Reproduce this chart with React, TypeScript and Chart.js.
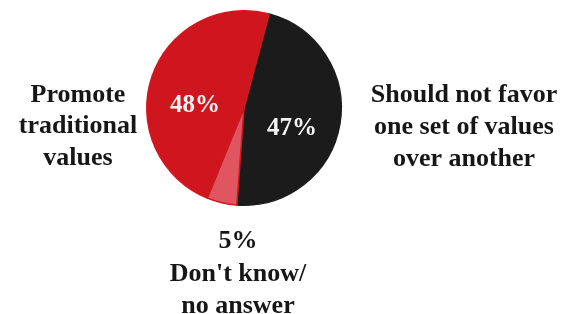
import React, { useEffect, useRef } from "react";
import { Chart, registerables } from "chart.js";

Chart.register(...registerables);

const categories = ["Should not favor one set of values over another", "Don't know/no answer", "Promote traditional values"];
const values = [47, 5, 48];
const sliceColors = ["#1c1b1b", "#df5560", "#cf151d"];
const borderColors = ["#1c1b1b", "#d01820", "#d01820"];

const pctLabels = [
  { text: "47%", x: 292, y: 135 },
  { text: "48%", x: 195, y: 112 },
];
const sideLabels = [
  { lines: ["Promote", "traditional", "values"], x: 78, y: [102, 133, 165] },
  { lines: ["Should not favor", "one set of values", "over another"], x: 464, y: [102, 134, 166] },
  { lines: ["5%", "Don't know/", "no answer"], x: 238, y: [248, 281, 313] },
];

const FONT = "bold 26px 'Liberation Serif', 'Times New Roman', serif";

const textPlugin = {
  id: "textPlugin",
  afterDraw(chart: any) {
    const ctx = chart.ctx;
    ctx.save();
    ctx.textAlign = "center";
    ctx.textBaseline = "alphabetic";
    ctx.font = FONT;
    ctx.fillStyle = "#161616";
    sideLabels.forEach((l) => {
      l.lines.forEach((line, i) => ctx.fillText(line, l.x, l.y[i]));
    });
    ctx.font = "bold 25px 'Liberation Serif', 'Times New Roman', serif";
    ctx.fillStyle = "#f4f4f4";
    pctLabels.forEach((p) => ctx.fillText(p.text, p.x, p.y));
    ctx.restore();
  },
};

export default function App() {
  const ref = useRef<HTMLCanvasElement>(null);
  useEffect(() => {
    document.body.style.margin = "0";
    const chart = new Chart(ref.current!, {
      type: "pie",
      data: {
        labels: categories,
        datasets: [
          {
            data: values,
            backgroundColor: sliceColors,
            borderColor: borderColors,
            borderWidth: 1.5,
          },
        ],
      },
      options: {
        animation: false,
        responsive: false,
        rotation: 15,
        layout: { padding: { top: 10, bottom: 108, left: 146, right: 228 } },
        plugins: { legend: { display: false }, tooltip: { enabled: false } },
      },
      plugins: [textPlugin],
    });
    return () => chart.destroy();
  }, []);
  return (
    <div style={{ width: 570, height: 314, background: "#fff" }}>
      <canvas ref={ref} width={570} height={314} />
    </div>
  );
}
